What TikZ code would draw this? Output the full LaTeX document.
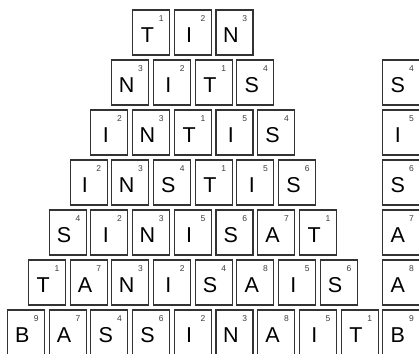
\documentclass[tikz,border=0pt]{standalone}
\usepackage{fontspec}
\setmainfont{Liberation Sans}
\begin{document}
\begin{tikzpicture}[x=1pt, y=-1pt,
	tile/.style={draw=black!80, line width=1.1pt, fill=white, minimum width=37pt, minimum height=45pt, inner sep=0pt},
	letter/.style={anchor=base, inner sep=0pt, font=\fontsize{21.5}{22}\selectfont},
	score/.style={anchor=base, inner sep=0pt, text=black!75, font=\fontsize{8.5}{9}\selectfont}]
	% Tham số bố cục
	\def\Pitch{41.7} % khoảng cách giữa hai ô
	\def\Mid{192.8} % tâm của kim tự tháp
	\def\RowStep{50} % khoảng cách giữa hai hàng
	\def\RightCol{401.35} % tâm cột bên phải
	
	\useasboundingbox (0,0) rectangle (419,353);
	\clip (0,0) rectangle (419,353);
	
	% 1. Kim tự tháp chữ
	\foreach \r/\word in {1/{T/1,I/2,N/3},
		2/{N/3,I/2,T/1,S/4},
		3/{I/2,N/3,T/1,I/5,S/4},
		4/{I/2,N/3,S/4,T/1,I/5,S/6},
		5/{S/4,I/2,N/3,I/5,S/6,A/7,T/1},
		6/{T/1,A/7,N/3,I/2,S/4,A/8,I/5,S/6},
		7/{B/9,A/7,S/4,S/6,I/2,N/3,A/8,I/5,T/1}}{
		\foreach [count=\c] \L/\k in \word {
			\pgfmathsetmacro\cx{\Mid + (\c - (\r+3)/2)*\Pitch}
			\pgfmathsetmacro\cy{32.5 + (\r-1)*\RowStep}
			\node[tile] (t-\r-\c) at (\cx,\cy) {};
			\node[letter] (l-\r-\c) at ([xshift=-3.6pt, yshift=-9.8pt]t-\r-\c.center) {\L};
			\node[score] (s-\r-\c) at ([xshift=10.2pt, yshift=10.8pt]t-\r-\c.center) {\k};
		}
	}
	
	% 2. Cột chữ mới bên phải
	\foreach \r/\L/\k in {2/S/4, 3/I/5, 4/S/6, 5/A/7, 6/A/8, 7/B/9}{
		\pgfmathsetmacro\cy{32.5 + (\r-1)*\RowStep}
		\node[tile] (n-\r) at (\RightCol,\cy) {};
		\node[letter] (nl-\r) at ([xshift=-3.6pt, yshift=-9.8pt]n-\r.center) {\L};
		\node[score] (ns-\r) at ([xshift=10.2pt, yshift=10.8pt]n-\r.center) {\k};
	}
	
\end{tikzpicture}
\end{document}
